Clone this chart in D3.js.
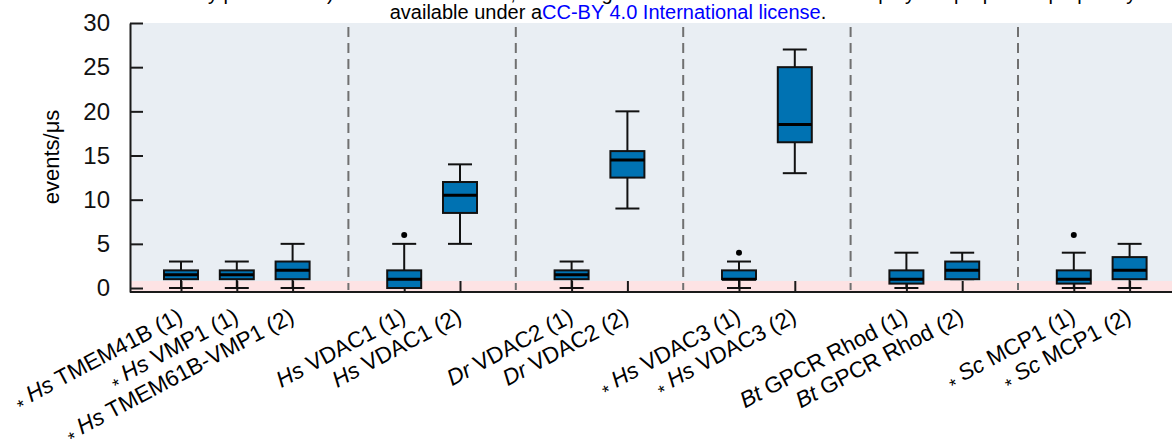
<html>
<head>
<script src="https://d3js.org/d3.v7.min.js"></script>
<style>
  body { margin: 0; background: #fff; }
  text { font-family: "Liberation Sans", Arial, sans-serif; }
</style>
</head>
<body>
<svg id="svg" width="1172" height="443"></svg>
<script>
var svg = d3.select("svg");
var width = +svg.attr("width");
var height = +svg.attr("height");

// data
var labels = ["TMEM41B (1)", "VMP1 (1)", "TMEM61B-VMP1 (2)", "VDAC1 (1)", "VDAC1 (2)",
              "VDAC2 (1)", "VDAC2 (2)", "VDAC3 (1)", "VDAC3 (2)", "GPCR Rhod (1)",
              "GPCR Rhod (2)", "MCP1 (1)", "MCP1 (2)"];
var species = ["Hs", "Hs", "Hs", "Hs", "Hs", "Dr", "Dr", "Hs", "Hs", "Bt", "Bt", "Sc", "Sc"];
var starred = [1, 1, 1, 0, 0, 0, 0, 1, 1, 0, 0, 1, 1];
var slots = [0, 1, 2, 4, 5, 7, 8, 10, 11, 13, 14, 16, 17];
var separators = [3, 6, 9, 12, 15];
var whiskerLow = [0, 0, 0, 0, 5, 0, 9, 0, 13, 0, 1, 0, 0];
var q1 = [1, 1, 1, 0, 8.5, 1, 12.5, 1, 16.5, 0.5, 1, 0.5, 1];
var medians = [1.5, 1.5, 2, 1, 10.5, 1.5, 14.5, 1, 18.5, 1, 2, 1, 2];
var q3 = [2, 2, 3, 2, 12, 2, 15.5, 2, 25, 2, 3, 2, 3.5];
var whiskerHigh = [3, 3, 5, 5, 14, 3, 20, 3, 27, 4, 4, 4, 5];
var outliers = [[], [], [], [6], [], [], [], [4], [], [], [], [6], []];
var yTicks = [0, 5, 10, 15, 20, 25, 30];
var threshold = 0.8;

var plotLeft = 130, plotTop = 23, plotBottom = 292;

var x = d3.scaleLinear().domain([-0.914, 17.914]).range([plotLeft, 1180.6]);
var y = d3.scaleLinear().domain([-0.45, 30]).range([plotBottom, plotTop]);

// header lines from the page (first one is cut by the top edge)
var header = svg.append("g").style("font-size", "20px");
header.append("text")
    .attr("x", 608).attr("y", 0)
    .attr("text-anchor", "middle")
    .text("(which was not certified by peer review) is the author/funder, who has granted bioRxiv a license to display the preprint in perpetuity. It is made");
var h2 = header.append("text").attr("x", 608).attr("y", 19).attr("text-anchor", "middle");
h2.append("tspan").attr("fill", "#000").text("available under a");
h2.append("tspan").attr("fill", "#0000ff").text("CC-BY 4.0 International license");
h2.append("tspan").attr("fill", "#000").text(".");

// plot background
svg.append("rect")
    .attr("x", plotLeft).attr("y", plotTop)
    .attr("width", width - plotLeft).attr("height", plotBottom - plotTop)
    .attr("fill", "#e9eef3");
svg.append("rect")
    .attr("x", plotLeft).attr("y", y(threshold))
    .attr("width", width - plotLeft).attr("height", plotBottom - y(threshold))
    .attr("fill", "#fde3e4");

// group separators
svg.selectAll(".sep").data(separators).enter().append("line")
    .attr("x1", d => x(d)).attr("x2", d => x(d))
    .attr("y1", plotTop + 4).attr("y2", plotBottom - 2)
    .attr("stroke", "#707070").attr("stroke-width", 2)
    .attr("stroke-dasharray", "10,6");

// axes
var yAxis = d3.axisLeft(y).tickValues(yTicks).tickSizeInner(-13).tickSizeOuter(0).tickPadding(20);
var gy = svg.append("g").attr("transform", "translate(" + plotLeft + ",0)").call(yAxis);
gy.selectAll("text").style("font-size", "24px").attr("fill", "#111");

var xAxis = d3.axisBottom(x).tickValues(slots).tickSizeInner(-11).tickSizeOuter(0).tickFormat("");
var gx = svg.append("g").attr("transform", "translate(0," + plotBottom + ")").call(xAxis);
gx.select(".domain").attr("d", "M" + plotLeft + ",0H" + width);

[gx, gy].forEach(function(g) {
    g.select(".domain").attr("stroke", "#1a1a1a").attr("stroke-width", 2);
    g.selectAll(".tick line").attr("stroke", "#1a1a1a").attr("stroke-width", 2);
});

// boxes
var boxW = 34, capW = 24;
var boxes = svg.selectAll(".box").data(labels).enter().append("g")
    .attr("transform", (d, i) => "translate(" + x(slots[i]) + ",0)");

boxes.append("line")
    .attr("y1", (d, i) => y(whiskerHigh[i])).attr("y2", (d, i) => y(whiskerLow[i]))
    .attr("stroke", "#111").attr("stroke-width", 2);
boxes.append("line")
    .attr("x1", -capW / 2).attr("x2", capW / 2)
    .attr("y1", (d, i) => y(whiskerHigh[i])).attr("y2", (d, i) => y(whiskerHigh[i]))
    .attr("stroke", "#111").attr("stroke-width", 2);
boxes.append("line")
    .attr("x1", -capW / 2).attr("x2", capW / 2)
    .attr("y1", (d, i) => y(whiskerLow[i])).attr("y2", (d, i) => y(whiskerLow[i]))
    .attr("stroke", "#111").attr("stroke-width", 2);
boxes.append("rect")
    .attr("x", -boxW / 2).attr("width", boxW)
    .attr("y", (d, i) => y(q3[i])).attr("height", (d, i) => y(q1[i]) - y(q3[i]))
    .attr("fill", "#0072b2").attr("stroke", "#111").attr("stroke-width", 2);
boxes.append("line")
    .attr("x1", -boxW / 2).attr("x2", boxW / 2)
    .attr("y1", (d, i) => y(medians[i])).attr("y2", (d, i) => y(medians[i]))
    .attr("stroke", "#000").attr("stroke-width", 3);
boxes.selectAll(".out").data((d, i) => outliers[i]).enter().append("circle")
    .attr("cy", d => y(d)).attr("r", 3).attr("fill", "#000");

// rotated category labels
var lab = svg.selectAll(".lab").data(labels).enter().append("text")
    .attr("transform", (d, i) => "translate(" + (x(slots[i]) + 3) + ",321) rotate(-28)")
    .attr("text-anchor", "end")
    .style("font-size", "22.5px")
    .attr("fill", "#000");
lab.each(function(d, i) {
    var t = d3.select(this);
    if (starred[i]) {
        t.append("tspan").style("font-size", "18px").attr("dy", 5).text("*");
        t.append("tspan").attr("dy", -5).text("  ");
    }
    t.append("tspan").style("font-style", "italic").text(species[i]);
    t.append("tspan").text(" " + d);
});

// y label
svg.append("text")
    .attr("transform", "translate(59,157) rotate(-90)")
    .attr("text-anchor", "middle")
    .style("font-size", "22px")
    .text("events/\u03bcs");
</script>
</body>
</html>
